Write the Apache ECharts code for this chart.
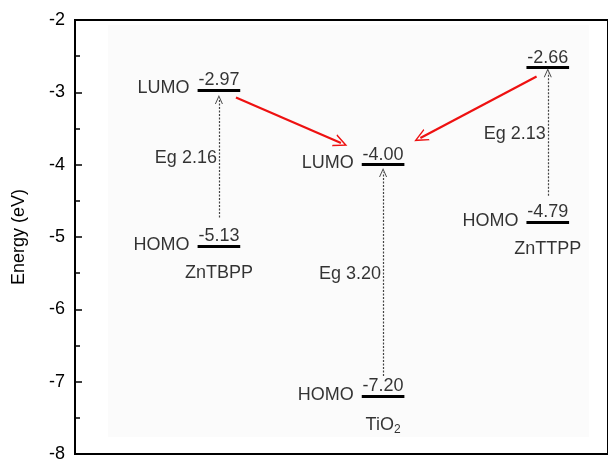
<!DOCTYPE html>
<html><head><meta charset="utf-8">
<script src="https://cdn.jsdelivr.net/npm/echarts@6/dist/echarts.min.js"></script>
<style>html,body{margin:0;padding:0;background:#fff}#c{width:608px;height:463px}</style>
</head><body><div id="c"></div>
<script>
// ---- data ----
const materials = ['ZnTBPP', 'TiO2', 'ZnTTPP'];
const lumo = [-2.97, -4.00, -2.66];
const homo = [-5.13, -7.20, -4.79];
const eg = [2.16, 3.20, 2.13];
const showLumoTag = [true, true, false];
const gapArrowFrom = [-4.73, -6.92, -4.43];
const gapArrowTo = [-3.10, -4.11, -2.73];
const yTicks = [-8, -7, -6, -5, -4, -3, -2];

// ---- layout ----
const xc = [27.0, 57.8, 88.7];
const hw = 4.0;
const FONT = 'Liberation Sans, Arial, sans-serif';
const FS = 18;
const chevron = 'path://M5,0 L10,10 L8.8,10 L5,2.4 L1.2,10 L0,10 Z';

const levelLines = [];
const gapArrows = [];
const texts = [];
materials.forEach((m, i) => {
  [lumo[i], homo[i]].forEach(v => {
    levelLines.push([{coord: [xc[i] - hw, v]}, {coord: [xc[i] + hw, v]}]);
    texts.push({value: [xc[i], v], label: {show: true, position: 'top', distance: 1, formatter: v.toFixed(2)}});
  });
  if (showLumoTag[i]) texts.push({value: [xc[i] - hw, lumo[i]], label: {show: true, position: 'left', distance: 8, offset: [0, -2], formatter: 'LUMO'}});
  texts.push({value: [xc[i] - hw, homo[i]], label: {show: true, position: 'left', distance: 8, offset: [0, -1], formatter: 'HOMO'}});
  gapArrows.push([{coord: [xc[i], gapArrowFrom[i]]}, {coord: [xc[i], gapArrowTo[i]]}]);
  texts.push({value: [xc[i], (gapArrowFrom[i] + gapArrowTo[i]) / 2], label: {show: true, position: 'left', distance: 2, formatter: 'Eg ' + eg[i].toFixed(2)}});
  const nm = m === 'TiO2' ? '{a|TiO}{s|2}' : '{a|' + m + '}';
  texts.push({value: [xc[i], homo[i]], label: {show: true, position: 'bottom', distance: 18, formatter: nm}});
});

const transfer = [
  [{coord: [xc[0] + 3.2, lumo[0] - 0.10]}, {coord: [xc[1] - 7.9, lumo[1] + 0.30]}],
  [{coord: [xc[2] - 2.1, lumo[2] - 0.12]}, {coord: [xc[1] + 7.0, lumo[1] + 0.37]}]
];

const chart = echarts.init(document.getElementById('c'), null, {renderer: 'canvas'});
chart.setOption({
  animation: false,
  textStyle: {fontFamily: FONT, color: '#000'},
  graphic: [{type: 'rect', z: -10, silent: true, shape: {x: 108, y: 25, width: 481, height: 412}, style: {fill: '#fbfbfb'}}],
  grid: {left: 75, right: -4, top: 20, bottom: 9, show: true, borderColor: '#000', borderWidth: 2, backgroundColor: 'transparent'},
  xAxis: {type: 'value', min: 0, max: 100, show: false},
  yAxis: {
    type: 'value', min: yTicks[0], max: yTicks[yTicks.length - 1], interval: 1,
    name: 'Energy (eV)', nameLocation: 'middle', nameGap: 47,
    nameTextStyle: {fontSize: FS, color: '#000', fontFamily: FONT},
    axisLine: {show: true, lineStyle: {color: '#000', width: 2}},
    axisTick: {show: true, inside: true, length: 7, lineStyle: {color: '#000', width: 1.5}},
    minorTick: {show: true, splitNumber: 2, length: 5, lineStyle: {color: '#000', width: 1.5}},
    splitLine: {show: false},
    axisLabel: {fontSize: FS, color: '#000', margin: 10, fontFamily: FONT}
  },
  series: [{
    type: 'scatter', symbolSize: 0, silent: true,
    label: {color: '#000', fontSize: FS, fontFamily: FONT,
      rich: {a: {fontSize: FS, color: '#000', fontFamily: FONT}, s: {fontSize: 12, color: '#000', fontFamily: FONT, verticalAlign: 'bottom', padding: [10, 0, 0, 0]}}},
    data: texts,
    markLine: {silent: true, symbol: 'none', animation: false, label: {show: false},
      lineStyle: {color: '#000', width: 3, type: 'solid'}, data: levelLines}
  }, {
    type: 'scatter', symbolSize: 0, silent: true, data: [],
    markLine: {silent: true, symbol: ['none', chevron], symbolSize: [8, 9], animation: false, label: {show: false},
      lineStyle: {color: '#444', width: 1.2, type: [2, 1.5]}, data: gapArrows}
  }, {
    type: 'scatter', symbolSize: 0, silent: true, data: [],
    markLine: {silent: true, symbol: ['none', chevron], symbolSize: [13, 14], animation: false, label: {show: false},
      lineStyle: {color: '#ee1111', width: 2.2, type: 'solid'}, data: transfer}
  }]
});
</script></body></html>
